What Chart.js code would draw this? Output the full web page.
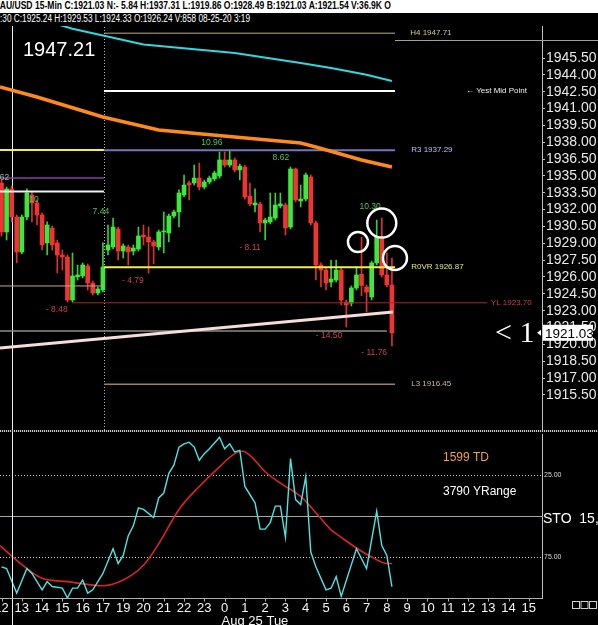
<!DOCTYPE html>
<html>
<head>
<meta charset="utf-8">
<script src="https://cdn.jsdelivr.net/npm/chart.js@4.4.0/dist/chart.umd.min.js"></script>
<style>
  html, body { margin: 0; padding: 0; background: #000; }
  body { width: 598px; height: 625px; position: relative; overflow: hidden; font-family: "Liberation Sans", Arial, sans-serif; }
  .hdr { position: absolute; left: 0; width: 598px; height: 13px; line-height: 13px; white-space: nowrap; overflow: hidden; z-index: 5; }
  .hdr span { display: inline-block; transform-origin: 0 50%; }
  #hdr1 { top: 0; background: #fff; color: #000; font: bold 10px "Liberation Sans", Arial, sans-serif; }
  #hdr2 { top: 13px; background: #000; color: #fff; font: 10px "Liberation Sans", Arial, sans-serif; }
  #priceChart { position: absolute; left: 0; top: 0; }
  #sep { position: absolute; left: 0; top: 430px; width: 598px; height: 2px;
         background: repeating-linear-gradient(90deg, #c8c8c8 0 1px, #202020 1px 2px); }
  #stoChart { position: absolute; left: 0; top: 432px; }
</style>
</head>
<body>
<div id="hdr1" class="hdr"><span style="margin-left:-6px">XAU/USD 15-Min C:1921.03 N:- 5.84 H:1937.31 L:1919.86 O:1928.49 B:1921.03 A:1921.54 V:36.9K O</span></div>
<div id="hdr2" class="hdr"><span>:30 C:1925.24 H:1929.53 L:1924.33 O:1926.24 V:858 08-25-20 3:19</span></div>
<canvas id="priceChart" width="598" height="430"></canvas>
<div id="sep"></div>
<canvas id="stoChart" width="598" height="193"></canvas>
<script>
// hour labels, one every 4 bars (15-min bars)
const hourLabels = ['12','13','14','15','16','17','19','20','21','22','23','0','1','2','3','4','5','6','7','8','9','10','11','12','13','14','15'];
const priceTicks = [1915.5,1917,1918.5,1920,1921.5,1923,1924.5,1926,1927.5,1929,1930.5,1932,1933.5,1935,1936.5,1938,1939.5,1941,1942.5,1944,1945.5];

// candles (bar index 0..77)
const opens = [1934.37,1930.01,1933.84,1931.34,1928.22,1931.34,1933.30,1932.59,1931.52,1929.03,
  1930.36,1929.03,1927.96,1927.78,1923.95,1926.00,1926.09,1926.98,1925.46,1924.57,
  1924.84,1928.40,1928.67,1930.27,1928.31,1928.67,1928.31,1928.49,1929.74,1929.56,
  1929.12,1928.67,1930.01,1929.92,1931.43,1931.79,1933.30,1934.37,1934.37,1934.81,
  1934.01,1934.46,1934.73,1934.99,1936.42,1935.97,1936.42,1935.53,1935.79,1933.21,
  1932.41,1932.50,1930.81,1930.90,1931.25,1932.32,1932.41,1930.45,1935.62,1932.77,
  1932.94,1934.90,1930.81,1927.07,1926.62,1925.55,1925.73,1926.62,1923.77,1923.68,
  1925.02,1926.24,1925.11,1924.22,1927.25,1929.47,1926.18,1925.29];
const highs = [1934.64,1934.01,1934.10,1931.52,1931.52,1933.84,1933.57,1932.86,1931.70,1930.90,
  1930.54,1929.29,1928.40,1927.96,1928.14,1927.07,1927.25,1927.16,1925.64,1925.11,
  1929.03,1930.63,1931.25,1930.45,1928.94,1928.85,1928.85,1930.45,1930.63,1930.45,
  1929.29,1930.18,1931.79,1931.61,1931.96,1933.75,1935.08,1934.55,1935.97,1936.15,
  1934.64,1934.99,1935.44,1937.13,1937.13,1937.31,1936.60,1936.06,1935.97,1934.37,
  1933.84,1932.68,1931.25,1933.48,1933.48,1933.48,1932.59,1935.79,1935.70,1934.19,
  1935.26,1935.08,1930.98,1927.25,1926.80,1927.51,1927.51,1926.80,1923.95,1925.20,
  1926.89,1929.53,1925.29,1927.42,1931.07,1931.25,1928.14,1927.69];
const lows = [1929.65,1929.29,1930.90,1927.25,1928.05,1931.07,1930.90,1930.63,1928.40,1927.96,
  1928.40,1926.35,1926.62,1923.77,1923.77,1925.73,1925.91,1924.84,1924.40,1924.40,
  1924.66,1927.96,1928.49,1927.51,1927.69,1927.07,1927.96,1928.31,1928.85,1926.35,
  1927.16,1928.40,1928.14,1929.12,1931.25,1930.45,1933.12,1932.86,1934.19,1933.75,
  1933.84,1934.28,1934.55,1934.81,1935.79,1935.79,1935.35,1934.64,1932.94,1932.32,
  1931.79,1930.01,1929.29,1930.72,1931.07,1932.14,1929.74,1930.27,1932.68,1932.23,
  1932.77,1930.63,1925.73,1925.11,1924.84,1925.11,1925.55,1923.51,1921.55,1923.42,
  1924.84,1924.33,1922.88,1923.95,1927.07,1926.00,1925.11,1919.86];
const closes = [1930.01,1933.84,1931.34,1928.22,1931.34,1933.48,1932.59,1931.52,1928.85,1930.63,
  1928.85,1927.96,1927.78,1923.95,1926.09,1926.18,1927.07,1925.46,1924.57,1924.93,
  1926.89,1928.85,1930.45,1928.31,1928.76,1928.22,1928.58,1929.65,1929.56,1929.12,
  1928.76,1930.01,1930.09,1931.43,1931.79,1933.48,1934.19,1934.19,1934.81,1934.01,
  1934.46,1934.81,1935.26,1936.42,1935.97,1936.42,1935.53,1935.88,1933.12,1932.50,
  1932.59,1930.81,1931.07,1931.34,1932.41,1932.50,1930.36,1935.62,1932.86,1932.94,
  1935.08,1930.81,1927.07,1926.62,1925.46,1925.82,1926.62,1923.95,1923.51,1925.02,
  1926.18,1925.24,1924.66,1927.25,1929.56,1926.18,1925.29,1921.03];

// moving averages read at a few bars
const cyanIdx = [4, 8, 14, 28, 46, 59, 65, 72, 77];
const cyanVal = [1949.9, 1948.9, 1948.1, 1946.7, 1945.95, 1945.05, 1944.6, 1944.0, 1943.45];
const orangeIdx = [-0.3, 7, 20, 31, 46, 59, 62, 71, 77];
const orangeVal = [1942.92, 1942.03, 1940.25, 1939.09, 1938.47, 1937.93, 1937.57, 1936.42, 1935.79];
const trendIdx = [-0.3, 77.2];
const trendVal = [1919.68, 1922.88];

// pivot levels
const h4 = 1947.71, yestMid = 1942.56, r3 = 1937.29, rovr = 1926.87, yl = 1923.70, l3 = 1916.45;
const prevHigh = 1937.31, prevPurple = 1934.81, prevWhite = 1933.62, prevTan = 1925.20, grayLevel = 1921.19, topGray = 1947.10;
const lastPrice = 1921.03;

// swing labels
const swingText = ['10.96', '8.62', '7.44', '10.30', '- 8.11', '- 4.79', '- 8.48', '- 14.50', '- 11.76', '10'];
const swingIdx  = [41.5, 55.1, 19.6, 72.7, 49.0, 25.9, 10.9, 64.6, 73.5, 6.4];
const swingVal  = [1937.93, 1936.60, 1931.79, 1932.23, 1928.58, 1925.64, 1923.06, 1920.75, 1919.23, 1932.86];
const swingUp   = [true, true, true, true, false, false, false, false, false, true];

const circleIdx = [70.3, 75.0, 77.6];
const circleVal = [1929.11, 1930.80, 1927.69];

// stochastic
const stoIdx = [0,1,3,5,6,8,9,10,12,13,14,15,16,17,18,20,22,23,24,25,26,27,28,30,31,32,33,34,35,36,37,38,39,40,41,43,44,45,46,47,48,50,51,52,53,54,55,56,57,58,59,60,61,62,64,65,66,67,70,72,74,75,76,77];
const stoVal = [81,82,97,82,85,95,90,93,94,100,94,94,89,97,95,85,70,79,74,62,56,45,46,51,39,36,24,19,8,6,5,8,16,12,9,2,9,6,11,10,32,42,58,58,54,44,44,63,15,40,43,26,72,81,95,94,87,99,70,82,47,68,74,93];
const sigIdx = [-0.3,3,8,13,20,24,28,31,35,39,43,46,47.5,49,52,55,59,62,65,67,70,73,76,77];
const sigVal = [68,77,88,90,92.5,89,80,67,46,32,20,12,10.5,13,23,30,38,48,58.5,63,69.5,75,79,79];

const cursorIdx = 2.07, sessionIdx = 20.2, levelEnd = 77.6;
const xMin = -0.3, xMax = 106.6;

const FONT = '"Liberation Sans", Arial, sans-serif';
const GREEN = '#3be83b', RED = '#f03434';

function seg(a, b, v) { return [{x: a, y: v}, {x: b, y: v}]; }
function pts(xs, ys) { return xs.map((x, i) => ({x: x, y: ys[i]})); }
function lineDs(data, color, width, order) {
  return {type: 'line', data: data, borderColor: color, borderWidth: width, pointRadius: 0,
          fill: false, tension: 0, order: order || 1};
}

const up = closes.map((c, i) => c >= opens[i]);

const mainOverlay = {
  id: 'mainOverlay',
  beforeDatasetsDraw(chart) {
    const {ctx, chartArea, scales: {x}} = chart;
    ctx.save();
    const cx = Math.round(x.getPixelForValue(cursorIdx)) + 0.5;
    ctx.strokeStyle = '#f0f0f0';
    ctx.lineWidth = 1;
    ctx.beginPath(); ctx.moveTo(cx, chartArea.top); ctx.lineTo(cx, chartArea.bottom); ctx.stroke();
    const sx = Math.round(x.getPixelForValue(sessionIdx)) + 0.5;
    ctx.strokeStyle = '#b0b0b0';
    ctx.setLineDash([1, 2]);
    ctx.beginPath(); ctx.moveTo(sx, chartArea.top); ctx.lineTo(sx, chartArea.bottom); ctx.stroke();
    ctx.restore();
  },
  afterDatasetsDraw(chart) {
    const {ctx, scales: {x, y}} = chart;
    ctx.save();
    ctx.font = '8.5px ' + FONT;
    ctx.textAlign = 'center';
    ctx.textBaseline = 'middle';
    swingText.forEach((t, i) => {
      ctx.fillStyle = swingUp[i] ? '#4cc84c' : '#c84444';
      ctx.fillText(t, x.getPixelForValue(swingIdx[i]), y.getPixelForValue(swingVal[i]));
    });
    // cut label at left edge
    ctx.fillStyle = '#a0b8a0';
    ctx.textAlign = 'right';
    ctx.fillText('8.62', x.getPixelForValue(1.5), y.getPixelForValue(prevPurple));

    // level labels
    ctx.textAlign = 'left';
    ctx.font = '8px ' + FONT;
    const lab = (t, idx, v, c) => { ctx.fillStyle = c; ctx.fillText(t, x.getPixelForValue(idx), y.getPixelForValue(v)); };
    lab('H4 ' + h4.toFixed(2), 80.6, h4, '#d0c890');
    lab('\u2190 Yest Mid Point', 91.6, yestMid, '#f0f0f0');
    lab('R3 ' + r3.toFixed(2), 80.8, r3, '#a8c8f0');
    lab('R0VR ' + rovr.toFixed(2), 80.8, rovr, '#e8e870');
    lab('YL ' + yl.toFixed(2), 96.5, yl, '#c84040');
    lab('L3 ' + l3.toFixed(2), 80.8, l3, '#d0b888');

    // circles
    ctx.strokeStyle = '#ffffff';
    ctx.lineWidth = 2.5;
    const radii = [10, 14.5, 12];
    circleIdx.forEach((c, i) => {
      ctx.beginPath();
      ctx.arc(x.getPixelForValue(c), y.getPixelForValue(circleVal[i]), radii[i], 0, Math.PI * 2);
      ctx.stroke();
    });
    ctx.restore();
  },
  afterDraw(chart) {
    const {ctx, chartArea, scales: {x, y}} = chart;
    ctx.save();
    // gray line near top
    const gy = Math.round(y.getPixelForValue(topGray)) + 0.5;
    ctx.strokeStyle = '#a0a0a0';
    ctx.lineWidth = 1;
    ctx.beginPath(); ctx.moveTo(x.getPixelForValue(levelEnd), gy); ctx.lineTo(598, gy); ctx.stroke();

    ctx.fillStyle = '#ffffff';
    ctx.font = '20px ' + FONT;
    ctx.textBaseline = 'middle';
    ctx.textAlign = 'left';
    ctx.fillText('1947.21', 23, 50);

    const py = y.getPixelForValue(lastPrice);
    ctx.font = '30px "Liberation Serif", "Times New Roman", serif';
    ctx.fillText('< 1', 495, py + 1);

    // last price box
    ctx.fillStyle = '#ffffff';
    ctx.fillRect(chartArea.right + 1, py - 8, 50, 16);
    ctx.beginPath();
    ctx.moveTo(chartArea.right - 5, py); ctx.lineTo(chartArea.right - 1, py - 3); ctx.lineTo(chartArea.right - 1, py + 3);
    ctx.closePath(); ctx.fill();
    ctx.fillStyle = '#000000';
    ctx.font = '13.5px ' + FONT;
    ctx.fillText(lastPrice.toFixed(2), chartArea.right + 3, py + 1);
    ctx.restore();
  }
};

new Chart(document.getElementById('priceChart'), {
  type: 'bar',
  data: {
    datasets: [
      {type: 'bar', data: opens.map((o, i) => ({x: i, y: [lows[i], highs[i]]})),
       backgroundColor: up.map(u => u ? '#34d034' : '#e03030'), borderWidth: 0,
       grouped: false, barPercentage: 1, categoryPercentage: 1, maxBarThickness: 1, order: 20},
      {type: 'bar', data: opens.map((o, i) => ({x: i, y: [o, closes[i]]})),
       backgroundColor: up.map(u => u ? GREEN : RED), borderWidth: 0, minBarLength: 1,
       grouped: false, barPercentage: 1, categoryPercentage: 1, maxBarThickness: 4, order: 19},
      lineDs(pts(cyanIdx, cyanVal), '#30d8e0', 2),
      lineDs(pts(orangeIdx, orangeVal), '#ff8a1c', 3.5),
      lineDs(pts(trendIdx, trendVal), '#f6dcdc', 3),
      lineDs(seg(sessionIdx, levelEnd, h4), '#b8b088', 1),
      lineDs(seg(sessionIdx, levelEnd, yestMid), '#ffffff', 2),
      lineDs(seg(xMin, sessionIdx, prevHigh), '#f4f040', 2),
      lineDs(seg(sessionIdx, levelEnd, r3), '#7474c4', 2),
      lineDs(seg(xMin, sessionIdx, prevPurple), '#8a3ca8', 1.5),
      lineDs(seg(xMin, sessionIdx, prevWhite), '#f0f0f0', 2),
      lineDs(seg(xMin, sessionIdx, prevTan), '#c8a888', 1),
      lineDs(seg(sessionIdx, levelEnd, rovr), '#f4f040', 2),
      lineDs(seg(13.9, 95.8, yl), '#a82828', 1),
      lineDs(seg(xMin, 76, grayLevel), '#8c8c80', 1.5),
      lineDs(seg(sessionIdx, levelEnd, l3), '#a08060', 1.5)
    ]
  },
  options: {
    responsive: false,
    animation: false,
    layout: {padding: 0},
    plugins: {legend: {display: false}, tooltip: {enabled: false}},
    scales: {
      x: {type: 'linear', min: xMin, max: xMax, offset: false, display: false, grid: {offset: false}},
      y: {
        position: 'right',
        min: 1950.665 - 430 * 0.08905,
        max: 1950.665,
        afterBuildTicks: s => { s.ticks = priceTicks.map(v => ({value: v})); },
        afterFit: s => { s.width = 56; s.paddingTop = 0; s.paddingBottom = 0; },
        ticks: {color: '#e8e8e8', font: {family: FONT, size: 14}, padding: 1, autoSkip: false,
                callback: v => Number(v).toFixed(2)},
        grid: {drawOnChartArea: false, color: '#c0c0c0', tickLength: 3},
        border: {color: '#c0c0c0'}
      }
    }
  },
  plugins: [mainOverlay]
});

const stoOverlay = {
  id: 'stoOverlay',
  beforeDatasetsDraw(chart) {
    const {ctx, chartArea, scales: {x, y}} = chart;
    ctx.save();
    ctx.lineWidth = 1;
    [25, 75].forEach(v => {
      const py = Math.round(y.getPixelForValue(v)) + 0.5;
      ctx.strokeStyle = '#c8c8c8';
      ctx.setLineDash([1, 2]);
      ctx.beginPath(); ctx.moveTo(chartArea.left, py); ctx.lineTo(chartArea.right, py); ctx.stroke();
    });
    ctx.setLineDash([]);
    const my = Math.round(y.getPixelForValue(50)) + 0.5;
    ctx.strokeStyle = '#a8a898';
    ctx.beginPath(); ctx.moveTo(chartArea.left, my); ctx.lineTo(chartArea.right + 1, my); ctx.stroke();
    ctx.restore();
  },
  afterDraw(chart) {
    const {ctx, chartArea, scales: {x, y}} = chart;
    ctx.save();
    // cursor line through the lower panel and axis row
    const cx = Math.round(x.getPixelForValue(cursorIdx)) + 0.5;
    ctx.strokeStyle = '#f0f0f0';
    ctx.lineWidth = 1;
    ctx.beginPath(); ctx.moveTo(cx, 0); ctx.lineTo(cx, chart.height); ctx.stroke();

    // time axis
    const ay = chartArea.bottom + 0.5;
    ctx.strokeStyle = '#b0b0b0';
    ctx.beginPath(); ctx.moveTo(0, ay); ctx.lineTo(chartArea.right, ay); ctx.stroke();
    ctx.fillStyle = '#f4f4f4';
    ctx.font = '13px ' + FONT;
    ctx.textAlign = 'center';
    ctx.textBaseline = 'middle';
    hourLabels.forEach((t, k) => {
      const px = x.getPixelForValue(k * 4);
      ctx.beginPath(); ctx.moveTo(Math.round(px) + 0.5, ay); ctx.lineTo(Math.round(px) + 0.5, ay + 3); ctx.stroke();
      ctx.fillText(t, px, chartArea.bottom + 10);
    });
    ctx.textAlign = 'left';
    ctx.fillText('Aug 25 Tue', x.getPixelForValue(44) - 3, chartArea.bottom + 23);

    // right side labels
    ctx.font = '7px ' + FONT;
    ctx.fillStyle = '#d8d8d8';
    ctx.fillText('25.00', chartArea.right + 2, y.getPixelForValue(25));
    ctx.fillText('75.00', chartArea.right + 2, y.getPixelForValue(75));
    ctx.font = '14px ' + FONT;
    ctx.fillStyle = '#ffffff';
    ctx.fillText('STO  15,', chartArea.right + 1, y.getPixelForValue(50) + 3);

    ctx.font = '12px ' + FONT;
    ctx.fillStyle = '#f0a040';
    ctx.fillText('1599 TD', 443, y.getPixelForValue(14.6));
    ctx.fillStyle = '#ffffff';
    ctx.fillText('3790 YRange', 443, y.getPixelForValue(35.4));

    // small boxes bottom right
    ctx.strokeStyle = '#d0d0d0';
    for (let i = 0; i < 3; i++) ctx.strokeRect(572.5 + i * 8.5, chartArea.bottom + 3.5, 7, 7);
    ctx.restore();
  }
};

new Chart(document.getElementById('stoChart'), {
  type: 'line',
  data: {
    datasets: [
      {data: pts(stoIdx, stoVal), borderColor: '#4ee4e4', borderWidth: 1.4, pointRadius: 0, tension: 0, order: 1},
      {data: pts(sigIdx, sigVal), borderColor: '#dc2424', borderWidth: 1.6, pointRadius: 0,
       cubicInterpolationMode: 'monotone', order: 2}
    ]
  },
  options: {
    responsive: false,
    animation: false,
    layout: {padding: {top: 2, bottom: 27, left: 0, right: 0}},
    plugins: {legend: {display: false}, tooltip: {enabled: false}},
    scales: {
      x: {type: 'linear', min: xMin, max: xMax, display: false},
      y: {
        position: 'right', reverse: true, min: 0, max: 100,
        afterFit: s => { s.width = 56; s.paddingTop = 0; s.paddingBottom = 0; },
        ticks: {display: false},
        grid: {drawOnChartArea: false, drawTicks: false},
        border: {color: '#c0c0c0'}
      }
    }
  },
  plugins: [stoOverlay]
});

// squeeze header text to the widths seen on screen
function fitHeader(id, width) {
  const s = document.querySelector('#' + id + ' span');
  const w = s.getBoundingClientRect().width;
  s.style.transform = 'scaleX(' + (width / w) + ')';
}
fitHeader('hdr1', 397);
fitHeader('hdr2', 250);
</script>
</body>
</html>
